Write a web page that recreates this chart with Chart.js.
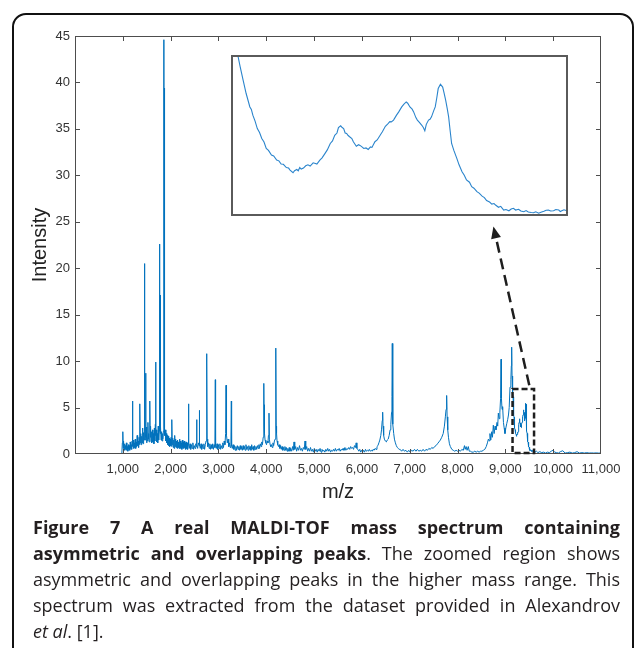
<!DOCTYPE html>
<html><head><meta charset="utf-8">
<script src="https://cdn.jsdelivr.net/npm/chart.js@4.4.0/dist/chart.umd.min.js"></script>
<style>
html,body{margin:0;padding:0;background:#fff;}
body{width:637px;height:648px;position:relative;overflow:hidden;}
#frame{position:absolute;left:12px;top:13px;width:622px;height:700px;border:2px solid #111;border-radius:14px;box-sizing:border-box;}
#main{position:absolute;left:0;top:0;}
#inset{position:absolute;left:230px;top:54px;}
#caption{position:absolute;left:33px;top:514px;width:587px;font-family:"Open Sans",sans-serif;font-size:18px;line-height:26px;color:#231f20;}
.j{text-align:justify;text-align-last:justify;white-space:nowrap;}
</style></head><body>
<div id="frame"></div>
<canvas id="main" width="637" height="520"></canvas>
<canvas id="inset" width="339" height="163"></canvas>
<div id="caption">
<div class="j"><b>Figure 7 A real MALDI-TOF mass spectrum containing</b></div>
<div class="j"><b>asymmetric and overlapping peaks</b>. The zoomed region shows</div>
<div class="j">asymmetric and overlapping peaks in the higher mass range. This</div>
<div class="j">spectrum was extracted from the dataset provided in Alexandrov</div>
<div><i>et al</i>. [1].</div>
</div>
<script>
// ---- data: [m/z, intensity] ----
const spectrumLowMass = [
[980,0.1],[990,1.2],[1000,2.4],[1008,0.6],[1015,1.4],[1025,0.5],[1035,1.1],[1045,0.4],[1055,0.9],[1065,0.5],[1075,1.2],[1085,0.4],[1095,0.8],[1105,0.3],[1115,1.0],[1125,0.5],[1135,0.9],[1145,0.4],[1155,1.3],[1165,0.6],[1175,1.0],[1185,0.5],[1195,1.4],[1202,0.8],[1206,5.7],[1210,0.9],[1220,1.5],[1230,0.6],[1240,1.2],[1250,0.7],[1260,1.6],[1270,0.6],[1280,1.3],[1290,0.8],[1300,2.0],[1310,0.9],[1320,1.4],[1330,0.7],[1340,1.8],[1350,1.0],[1359,5.4],[1365,1.2],[1375,2.2],[1385,1.0],[1395,1.9],[1405,1.2],[1415,2.8],[1425,1.1],[1435,2.3],[1445,1.5],[1452,12.5],[1455,2.0],[1457,20.5],[1461,3.0],[1470,1.5],[1478,8.7],[1483,1.8],[1490,2.9],[1498,1.2],[1505,2.5],[1515,1.4],[1525,3.4],[1533,1.6],[1540,2.2],[1550,1.3],[1560,2.6],[1568,5.7],[1573,1.8],[1580,3.0],[1590,1.4],[1600,2.4],[1610,1.2],[1620,2.6],[1630,1.3],[1640,2.2],[1650,1.1],[1660,2.8],[1670,1.4],[1680,3.2],[1687,9.9],[1692,2.0],[1700,2.6],[1710,1.3],[1720,2.2],[1730,1.2],[1740,3.0],[1750,1.5],[1760,2.4],[1766,4.0],[1771,22.6],[1775,2.5],[1778,17.1],[1782,2.2],[1790,3.2],[1800,1.5],[1810,2.4],[1820,1.4],[1830,2.2],[1840,1.6],[1850,2.5],[1856,3.5],[1861,44.6],[1864,3.0],[1866,39.4],[1869,2.6],[1875,5.0],[1880,2.0],[1890,2.6],[1900,1.4]
];
const spectrumMidMass = [
[1910,2.2],[1920,1.2],[1930,2.0],[1940,1.0],[1950,1.9],[1960,0.9],[1970,1.7],[1980,0.8],[1990,1.6],[2000,0.9],[2010,1.8],[2020,0.8],[2028,3.7],[2034,1.0],[2045,1.7],[2055,0.7],[2065,1.5],[2075,0.6],[2085,2.0],[2095,0.8],[2105,1.6],[2115,0.7],[2125,1.4],[2135,0.6],[2145,1.5],[2155,0.7],[2165,1.3],[2175,0.6],[2185,1.6],[2195,0.7],[2205,1.4],[2215,0.6],[2225,1.2],[2235,0.5],[2245,1.5],[2255,0.7],[2265,1.3],[2275,0.6],[2285,1.4],[2295,0.7],[2305,1.2],[2315,0.5],[2325,1.3],[2335,0.6],[2345,1.2],[2355,0.5],[2365,1.0],[2372,1.2],[2377,5.4],[2382,1.0],[2390,0.6],
[2405,1.1],[2420,0.5],[2435,1.0],[2450,0.6],[2465,1.2],[2480,0.5],[2495,0.9],[2510,0.6],[2525,1.1],[2538,0.8],[2544,3.7],[2550,1.0],[2565,0.6],[2580,1.2],[2594,0.9],[2600,4.7],[2606,1.0],[2620,0.6],[2635,1.1],[2650,0.5],[2665,1.0],[2680,0.6],[2695,1.1],[2710,0.5],[2725,1.0],[2740,1.4],[2748,2.5],[2754,10.8],[2757,2.0],[2760,9.8],[2764,1.6],[2775,0.8],[2790,1.2],[2805,0.6],[2820,1.1],[2835,0.5],[2850,1.0],[2865,0.6],[2880,1.1],[2895,0.5],[2910,1.0],[2925,0.7],[2934,8.0],[2940,0.9],[2955,0.6],[2970,1.1],[2985,0.5],[3000,1.0],[3015,0.6],[3030,1.1],[3045,0.5],[3060,0.9],[3075,0.6],[3090,1.2],[3105,0.7],[3120,1.4],[3135,1.0],[3150,2.2],[3158,7.4],[3163,2.5],[3168,5.2],[3175,2.0],[3185,1.2],[3200,1.6],[3215,0.8],[3230,1.2],[3245,0.7],[3260,1.0],[3269,5.7],[3275,0.9],[3290,0.6],[3305,1.0],[3320,0.5],[3335,0.9],[3350,0.4],[3365,0.8],[3380,0.4],[3395,0.9],[3410,0.5],[3425,0.8],[3440,0.4],[3455,0.9],[3470,0.5],[3485,0.8],[3500,0.4],[3515,0.9],[3530,0.5],[3545,0.8],[3560,0.4],[3575,1.0],[3590,0.5],[3605,0.8],[3620,0.4],[3635,0.9],[3650,0.5],[3665,0.8],[3680,0.4],[3695,1.0],[3710,0.5],[3725,0.8],[3740,0.4],[3755,0.9],[3770,0.5],[3785,0.8],[3800,0.5],[3815,0.9],[3830,0.6],[3845,1.0],[3860,0.6],[3875,1.1],[3890,0.8],[3905,1.3],[3920,1.0],[3935,1.8],[3945,2.6],[3952,7.6],[3956,3.0],[3960,5.3],[3966,2.2],[3975,1.5],[3990,1.2],[4005,1.0],[4020,1.4],[4035,1.2],[4045,2.0],[4057,4.4],[4065,1.6],[4080,1.0],[4095,0.8],[4110,1.0],[4125,0.7],[4140,1.2],[4155,0.9],[4170,1.4],[4185,1.6],[4195,2.8],[4203,11.4],[4208,3.0],[4215,2.2],[4225,1.4],[4240,1.0],[4255,0.8],[4270,1.0],[4285,0.6],[4300,0.9],[4315,0.5],[4330,0.8],[4345,0.4],[4360,0.7],[4375,0.4],[4390,0.8],[4405,0.4],[4420,0.7],[4435,0.3],[4450,0.6],[4465,0.3],[4480,0.7],[4495,0.3]
];
const spectrumHighMass = [
[4510,0.6],[4530,0.3],[4550,0.8],[4565,0.4],[4580,1.3],[4595,0.5],[4615,0.8],[4635,0.3],[4655,0.7],[4675,0.4],[4695,0.9],[4715,0.4],[4735,0.6],[4755,0.3],[4775,0.7],[4795,0.5],[4810,1.4],[4825,0.5],[4845,0.8],[4865,0.3],[4885,0.6],[4905,0.3],[4925,0.7],[4945,0.3],[4965,0.5],[4985,0.2],[5005,0.6],[5025,0.3],[5045,0.5],[5065,0.2],[5085,0.5],[5105,0.3],[5125,0.6],[5145,0.2],[5165,0.5],[5185,0.3],[5205,0.4],[5225,0.2],[5245,0.5],[5265,0.3],[5285,0.6],[5305,0.3],[5325,0.5],[5345,0.2],[5365,0.4],[5385,0.3],[5405,0.5],[5425,0.3],[5445,0.6],[5465,0.3],[5485,0.5],[5505,0.4],[5525,0.6],[5545,0.3],[5565,0.5],[5585,0.4],[5605,0.6],[5625,0.4],[5645,0.7],[5665,0.4],[5685,0.6],[5705,0.5],[5725,0.7],[5745,0.5],[5765,0.8],[5785,0.6],[5805,0.7],[5825,0.5],[5845,0.9],[5865,0.7],[5880,1.2],[5895,0.6],[5915,0.5],[5935,0.3],[5955,0.5],[5975,0.2],[5995,0.4],[6015,0.2],[6035,0.4],[6055,0.2],[6075,0.5],[6095,0.3],[6115,0.4],[6135,0.3],[6155,0.5],[6175,0.3],[6195,0.4],[6215,0.3],[6235,0.5],[6255,0.4],[6275,0.6],[6295,0.5],[6315,0.8],[6335,0.9],[6355,1.2],[6375,1.5],[6395,2.0],[6410,2.6],[6425,3.6],[6434,4.5],[6442,3.0],[6455,2.0],[6470,1.6],[6490,1.4],[6510,1.3],[6530,1.5],[6550,1.6],[6570,2.0],[6590,2.6],[6605,3.2],[6620,4.5],[6628,6.2],[6635,11.9],[6641,5.5],[6650,3.2],[6665,2.2],[6680,1.6],[6700,1.2],[6720,0.9],[6740,0.7],[6760,0.6],[6780,0.5],[6800,0.5]
];
const spectrumLateMass = [
[6830,0.3],[6860,0.5],[6890,0.3],[6920,0.4],[6950,0.2],[6980,0.4],[7010,0.2],[7040,0.4],[7070,0.3],[7100,0.5],[7130,0.3],[7160,0.5],[7190,0.3],[7220,0.4],[7250,0.3],[7280,0.5],[7310,0.3],[7340,0.5],[7370,0.4],[7400,0.6],[7430,0.5],[7460,0.7],[7490,0.6],[7520,0.8],[7550,0.9],[7580,1.1],[7610,1.3],[7640,1.5],[7670,1.8],[7700,2.2],[7725,3.0],[7745,4.0],[7760,4.8],[7772,6.3],[7782,4.0],[7795,2.6],[7810,1.8],[7830,1.1],[7850,0.8],[7880,0.5],[7910,0.4],[7940,0.3],[7970,0.4],[8000,0.3],[8030,0.4],[8060,0.3],[8090,0.5],[8120,0.4],[8145,0.9],[8160,0.5],[8180,0.8],[8200,0.4],[8225,0.8],[8245,0.3],[8270,0.3],[8300,0.2],[8330,0.2],[8360,0.3],[8390,0.2],[8420,0.3],[8450,0.2],[8480,0.3],[8510,0.3],[8540,0.4],[8570,0.5],[8600,0.8],[8625,1.2],[8645,1.6],[8665,1.4],[8678,2.2],[8695,1.5],[8715,2.4],[8730,1.8],[8748,3.1],[8765,2.2],[8785,3.0],[8804,2.6],[8825,3.4],[8840,3.0],[8853,4.4],[8870,3.8],[8885,4.5],[8900,6.0],[8910,10.2],[8918,6.0],[8930,4.8],[8943,5.1],[8960,3.4],[8975,2.8],[8992,2.2],[9010,2.8],[9030,3.3],[9048,3.7],[9065,4.2],[9080,5.0],[9097,7.2],[9115,8.0],[9125,9.5],[9132,11.5],[9140,8.4],[9146,7.8]
];
const zoomRegion = [
[9150,7.4],[9158,6.6],[9161,6.16],[9165,5.62],[9169,5.09],[9174,4.55],[9176,4.45],[9178,4.22],[9181,3.98],[9184,3.68],[9187,3.52],[9190,3.28],[9193,3.14],[9196,2.88],[9199,2.80],[9203,2.61],[9206,2.58],[9210,2.41],[9213,2.38],[9216,2.25],[9219,2.24],[9223,2.11],[9226,2.09],[9228,2.01],[9232,1.90],[9234,1.98],[9237,2.03],[9239,1.98],[9241,2.11],[9243,2.05],[9246,2.09],[9249,2.18],[9252,2.22],[9255,2.17],[9259,2.30],[9262,2.27],[9264,2.25],[9268,2.41],[9271,2.50],[9275,2.68],[9278,2.82],[9282,3.08],[9285,3.18],[9288,3.41],[9291,3.50],[9293,3.72],[9296,3.79],[9298,3.72],[9300,3.68],[9302,3.50],[9304,3.48],[9306,3.40],[9308,3.35],[9311,3.28],[9313,3.15],[9315,3.06],[9317,2.97],[9320,3.03],[9322,3.00],[9325,2.93],[9327,2.88],[9330,2.90],[9333,2.84],[9336,2.94],[9338,2.92],[9342,3.15],[9345,3.22],[9349,3.41],[9352,3.55],[9356,3.77],[9359,3.86],[9362,3.96],[9364,3.95],[9367,4.02],[9371,4.22],[9374,4.35],[9378,4.55],[9381,4.66],[9384,4.75],[9386,4.70],[9389,4.55],[9392,4.46],[9394,4.35],[9397,4.12],[9399,4.02],[9402,3.92],[9405,3.81],[9407,3.72],[9409,3.59],[9411,3.85],[9414,4.02],[9416,4.05],[9418,4.15],[9421,4.40],[9423,4.55],[9425,4.90],[9427,5.29],[9430,5.46],[9433,5.35],[9435,5.10],[9437,4.82],[9439,4.50],[9441,4.15],[9443,3.60],[9445,3.08],[9448,2.80],[9452,2.48],[9455,2.22],[9459,1.94],[9462,1.80],[9465,1.61],[9469,1.52],[9472,1.34],[9475,1.28],[9479,1.14],[9482,1.08],[9486,0.96],[9489,0.90],[9492,0.78],[9496,0.72],[9499,0.64],[9502,0.66],[9504,0.60],[9508,0.51],[9511,0.55],[9515,0.40],[9518,0.42],[9522,0.37],[9525,0.44],[9528,0.47],[9531,0.40],[9535,0.43],[9538,0.36],[9542,0.33],[9545,0.38],[9548,0.32],[9552,0.30],[9555,0.29],[9558,0.33],[9562,0.27],[9565,0.31],[9569,0.35],[9572,0.39],[9575,0.40],[9578,0.36],[9582,0.37],[9585,0.42],[9589,0.40],[9591,0.34],[9593,0.37],[9596,0.41],[9600,0.37]
];
const spectrumTail = [
[9620,0.2],[9650,0.3],[9680,0.15],[9720,0.25],[9760,0.15],[9800,0.2],[9840,0.1],[9880,0.2],[9920,0.15],[9960,0.3],[9995,0.4],[10030,0.2],[10070,0.15],[10110,0.1],[10150,0.25],[10200,0.35],[10250,0.1],[10300,0.15],[10350,0.2],[10400,0.1],[10450,0.15],[10500,0.25],[10550,0.1],[10600,0.15],[10650,0.1],[10700,0.15],[10750,0.1],[10800,0.12],[10850,0.1],[10900,0.12],[10950,0.1],[11000,0.1]
];
const xTickValues = [1000,2000,3000,4000,5000,6000,7000,8000,9000,10000];
const yTickValues = [5,10,15,20,25,30,35,40];
const zoomMzRange = [9150, 9600];
const zoomIntensityRange = [0, 7];
const insetIntensityRange = [0.2, 6.6];
const arrowFrom = [9500, 7.4];
const arrowTo = [8750, 24.5];

const toXY = arr => arr.map(([x, y]) => ({x, y}));
const fullSpectrum = [].concat(spectrumLowMass, spectrumMidMass, spectrumHighMass, spectrumLateMass, zoomRegion, spectrumTail);

const AXIS = '#4d4d4d', TEXT = '#333333', FONT = '"Liberation Sans", Arial, sans-serif';

const decorations = {
  id: 'decorations',
  afterDatasetsDraw(chart) {
    const {ctx, chartArea: a, scales: {x, y}} = chart;
    ctx.save();
    ctx.strokeStyle = AXIS; ctx.lineWidth = 1;
    ctx.strokeRect(a.left + 0.5, a.top + 0.5, a.right - a.left - 1, a.bottom - a.top - 1);
    ctx.beginPath();
    xTickValues.forEach(v => {
      const px = Math.round(x.getPixelForValue(v)) + 0.5;
      ctx.moveTo(px, a.bottom); ctx.lineTo(px, a.bottom - 5);
      ctx.moveTo(px, a.top); ctx.lineTo(px, a.top + 5);
    });
    yTickValues.forEach(v => {
      const py = Math.round(y.getPixelForValue(v)) + 0.5;
      ctx.moveTo(a.left, py); ctx.lineTo(a.left + 5, py);
      ctx.moveTo(a.right, py); ctx.lineTo(a.right - 5, py);
    });
    ctx.stroke();
    // dashed zoom rectangle
    const rx1 = x.getPixelForValue(zoomMzRange[0]), rx2 = x.getPixelForValue(zoomMzRange[1]);
    const ry1 = y.getPixelForValue(zoomIntensityRange[1]), ry2 = y.getPixelForValue(zoomIntensityRange[0]);
    ctx.strokeStyle = '#1e1e1e'; ctx.lineWidth = 2.5; ctx.setLineDash([6, 3]);
    ctx.strokeRect(rx1, ry1, rx2 - rx1, ry2 - ry1 - 1);
    // arrow
    const sx = x.getPixelForValue(arrowFrom[0]), sy = y.getPixelForValue(arrowFrom[1]);
    const tx = x.getPixelForValue(arrowTo[0]), ty = y.getPixelForValue(arrowTo[1]);
    const ang = Math.atan2(ty - sy, tx - sx), head = 12;
    const bx = tx - head * Math.cos(ang), by = ty - head * Math.sin(ang);
    ctx.setLineDash([11, 6]); ctx.lineWidth = 2.5;
    ctx.beginPath(); ctx.moveTo(sx, sy); ctx.lineTo(bx, by); ctx.stroke();
    ctx.setLineDash([]);
    ctx.fillStyle = '#1e1e1e';
    ctx.beginPath();
    ctx.moveTo(tx, ty);
    ctx.lineTo(bx + 5 * Math.sin(ang), by - 5 * Math.cos(ang));
    ctx.lineTo(bx - 5 * Math.sin(ang), by + 5 * Math.cos(ang));
    ctx.closePath(); ctx.fill();
    ctx.restore();
  }
};

new Chart(document.getElementById('main'), {
  type: 'line',
  data: { datasets: [{ data: toXY(fullSpectrum), borderColor: '#0072BD', borderWidth: 1, pointRadius: 0, tension: 0, fill: false }] },
  options: {
    responsive: false, animation: false, devicePixelRatio: 1,
    layout: { padding: { left: 0, right: 36, top: 36, bottom: 0 } },
    plugins: { legend: { display: false }, tooltip: { enabled: false } },
    scales: {
      x: {
        type: 'linear', min: 0, max: 11000,
        border: { display: false }, grid: { display: false, drawTicks: false },
        ticks: { stepSize: 1000, padding: 8, color: TEXT, font: { family: FONT, size: 13 }, maxRotation: 0, autoSkip: false,
          callback: v => v === 0 ? '' : v.toLocaleString('en-US') },
        title: { display: true, text: 'm/z', color: '#222', font: { family: FONT, size: 20 }, padding: { top: 0, bottom: 16 } },
        afterFit: s => { s.height = 66; }
      },
      y: {
        min: 0, max: 45,
        border: { display: false }, grid: { display: false, drawTicks: false },
        ticks: { stepSize: 5, padding: 5, color: TEXT, font: { family: FONT, size: 13 } },
        title: { display: true, text: 'Intensity', color: '#222', font: { family: FONT, size: 20 }, padding: { top: 28, bottom: 0 } },
        afterFit: s => { s.width = 75; }
      }
    }
  },
  plugins: [decorations]
});

const insetBorder = {
  id: 'insetBorder',
  afterDatasetsDraw(chart) {
    const {ctx, chartArea: a} = chart;
    ctx.save(); ctx.strokeStyle = '#5a5a5a'; ctx.lineWidth = 2;
    ctx.strokeRect(a.left, a.top, a.right - a.left, a.bottom - a.top);
    ctx.restore();
  }
};

new Chart(document.getElementById('inset'), {
  type: 'line',
  data: { datasets: [{ data: toXY(zoomRegion), borderColor: '#2a84cc', borderWidth: 1.1, pointRadius: 0, tension: 0, fill: false }] },
  options: {
    responsive: false, animation: false, devicePixelRatio: 1,
    layout: { padding: 2 },
    plugins: { legend: { display: false }, tooltip: { enabled: false } },
    scales: {
      x: { type: 'linear', min: zoomMzRange[0], max: zoomMzRange[1], display: false },
      y: { min: insetIntensityRange[0], max: insetIntensityRange[1], display: false }
    }
  },
  plugins: [insetBorder]
});
</script>
</body></html>
